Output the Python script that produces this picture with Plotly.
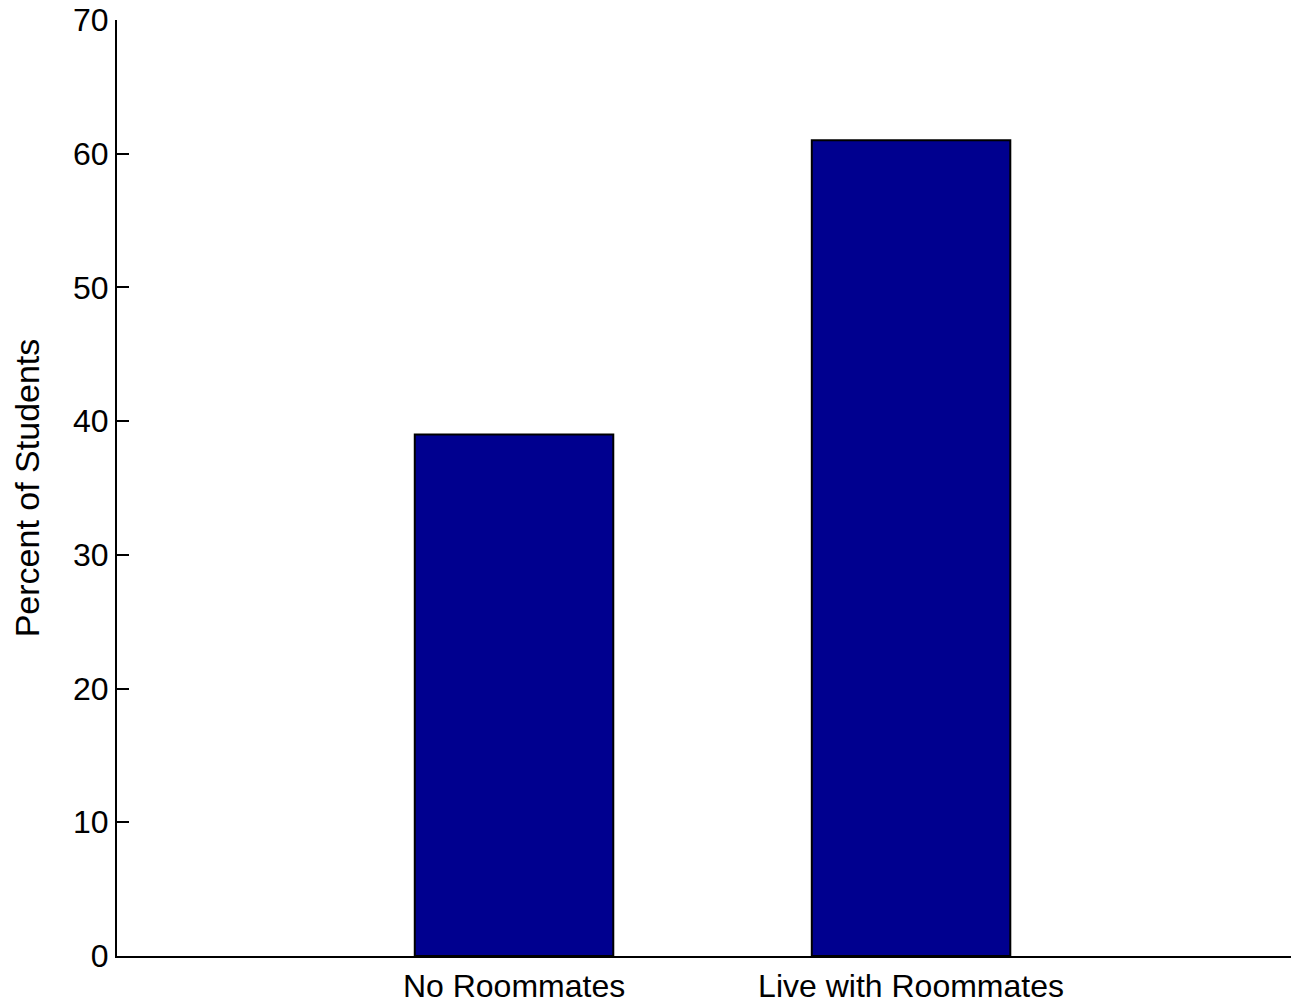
import plotly.graph_objects as go

categories = ["No Roommates", "Live with Roommates"]
positions = [1, 2]
percent = [39, 61]
y_ticks = [0, 10, 20, 30, 40, 50, 60, 70]

fig = go.Figure()
fig.add_trace(go.Bar(
    x=positions,
    y=percent,
    width=0.5,
    marker=dict(color="#00008F", line=dict(color="black", width=2)),
    showlegend=False,
))

font = "Liberation Sans, Arial, sans-serif"
fig.update_layout(
    width=1283,
    height=990,
    margin=dict(l=109, r=0, t=12, b=42, autoexpand=False),
    paper_bgcolor="white",
    plot_bgcolor="white",
    font=dict(family=font, color="black", size=32),
    xaxis=dict(
        range=[0, 2.957],
        tickmode="array",
        tickvals=positions,
        ticktext=categories,
        ticks="",
        showgrid=False,
        zeroline=False,
        showline=True,
        linecolor="black",
        linewidth=2,
        tickfont=dict(size=32),
        ticklabelstandoff=1,
        ticklabeloverflow="allow",
        automargin=False,
    ),
    yaxis=dict(
        range=[0, 70],
        tickmode="array",
        tickvals=y_ticks,
        ticks="inside",
        ticklen=12,
        tickwidth=2,
        tickcolor="black",
        showgrid=False,
        zeroline=False,
        showline=True,
        linecolor="black",
        linewidth=2,
        tickfont=dict(size=32),
        ticklabelstandoff=0,
        ticklabeloverflow="allow",
        automargin=False,
        title=dict(text="Percent of Students", font=dict(size=34), standoff=30),
    ),
)

fig.write_html("out.html")
